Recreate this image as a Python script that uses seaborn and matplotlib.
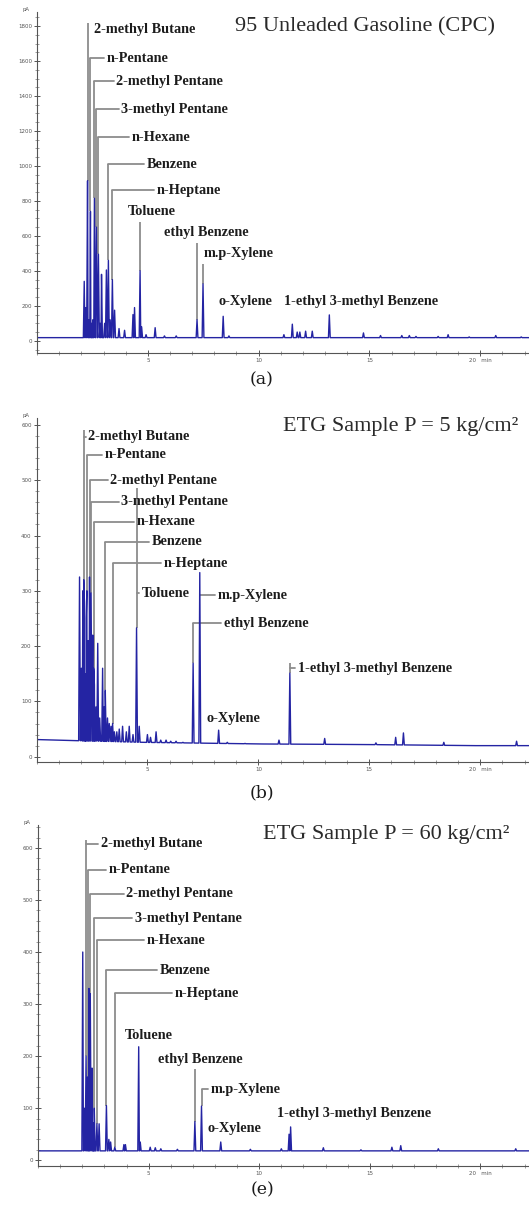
import numpy as np
import pandas as pd
import seaborn as sns
import matplotlib.pyplot as plt
from matplotlib.ticker import MultipleLocator, FixedLocator, FixedFormatter

sns.set_style('ticks')
plt.rcParams['font.family'] = ['DejaVu Sans']

compounds = ["2-methyl Butane", "n-Pentane", "2-methyl Pentane", "3-methyl Pentane",
             "n-Hexane", "Benzene", "n-Heptane", "Toluene", "ethyl Benzene",
             "m.p-Xylene", "o-Xylene", "1-ethyl 3-methyl Benzene"]

# ---- (a) 95 unleaded gasoline ----
peak_t_a = [2.13, 2.20, 2.28, 2.34, 2.41, 2.47, 2.52, 2.59, 2.68, 2.77, 2.85, 2.91, 3.05,
            3.13, 3.22, 3.30, 3.40, 3.50, 3.70, 3.95, 4.33, 4.40, 4.65, 4.72, 4.92, 5.33,
            5.75, 6.28, 7.22, 7.49, 8.40, 8.66, 11.14, 11.52, 11.74, 11.86, 12.12, 12.42,
            13.19, 14.73, 15.50, 16.46, 16.80, 17.10, 18.10, 18.55, 19.50, 20.70, 21.85]
peak_h_a = [340, 190, 915, 120, 740, 100, 120, 815, 650, 495, 100, 380, 100,
            405, 460, 120, 350, 175, 70, 60, 150, 190, 400, 80, 35, 75,
            28, 28, 120, 325, 140, 28, 35, 95, 50, 50, 55, 55,
            148, 45, 30, 30, 30, 25, 25, 35, 22, 30, 22]
base_t_a = [0.0, 22.2]
base_y_a = [18, 18]
lab_x_a = [2.59, 3.14, 3.58, 3.81, 4.25, 4.93, 5.38, 4.08, 5.74, 7.53, 8.21, 11.14]
lab_y_a = [1782, 1616, 1485, 1325, 1165, 1011, 862, 742, 622, 497, 223, 223]
lead_t_a = [2.28, 2.41, 2.59, 2.68, 2.77, 3.22, 3.40, 4.65, 7.22, 7.49, np.nan, np.nan]
lead_top_a = [1816, 1616, 1485, 1325, 1165, 1011, 862, 680, 560, 440, np.nan, np.nan]
hook_a = [False, True, True, True, True, True, True, False, False, False, False, False]

# ---- (b) ETG sample 5 kg/cm2 ----
peak_t_b = [1.94, 2.02, 2.09, 2.13, 2.16, 2.20, 2.24, 2.27, 2.33, 2.39, 2.46, 2.54, 2.58,
            2.61, 2.68, 2.76, 2.85, 2.98, 3.05, 3.10, 3.20, 3.28, 3.36, 3.43, 3.51, 3.62,
            3.73, 3.88, 4.05, 4.18, 4.35, 4.51, 4.63, 5.00, 5.14, 5.39, 5.60, 5.84, 6.05,
            6.29, 6.60, 7.06, 7.36, 8.21, 8.60, 9.40, 10.93, 11.42, 12.99, 15.30, 16.19,
            16.54, 18.36, 21.64]
peak_h_b = [325, 160, 300, 320, 280, 150, 250, 300, 210, 325, 296, 220, 160,
            130, 90, 205, 70, 160, 90, 120, 70, 60, 55, 60, 45, 45,
            50, 55, 45, 55, 40, 233, 55, 40, 35, 45, 30, 30, 28,
            28, 26, 169, 333, 48, 26, 24, 30, 151, 33, 25, 35,
            43, 26, 28]
base_t_b = [0.0, 1.8, 4.8, 10.2, 14.8, 19.8, 22.2]
base_y_b = [31, 29, 26, 23, 22, 20, 20]
lab_x_b = [2.34, 3.07, 3.33, 3.82, 4.50, 5.21, 5.75, 4.75, 8.43, 8.16, 7.67, 11.79]
lab_y_b = [579, 546, 500, 461, 425, 389, 350, 296, 241, 292, 69, 160]
lead_t_b = [2.13, 2.27, 2.39, 2.46, 2.58, 3.10, 3.43, 4.51, 7.06, 7.36, np.nan, 11.42]
lead_top_b = [590, 546, 500, 461, 425, 389, 350, 486, 241, 333, np.nan, 169]
hook_b = [True, True, True, True, True, True, True, True, True, True, False, True]

# ---- (e) ETG sample 60 kg/cm2 ----
peak_t_e = [2.02, 2.09, 2.17, 2.24, 2.30, 2.36, 2.44, 2.50, 2.54, 2.66, 2.76, 3.09, 3.20,
            3.28, 3.47, 3.88, 3.95, 4.55, 4.62, 5.07, 5.30, 5.55, 6.30, 7.09, 7.39, 8.26,
            9.60, 11.00, 11.35, 11.42, 12.90, 14.60, 16.00, 16.40, 18.10, 21.60]
peak_h_e = [400, 100, 200, 160, 330, 320, 177, 72, 100, 70, 70, 105, 40,
            35, 25, 30, 30, 218, 35, 25, 24, 22, 21, 74, 104, 35,
            21, 22, 50, 64, 24, 20, 25, 28, 22, 22]
base_t_e = [0.0, 22.2]
base_y_e = [18, 18]
lab_x_e = [2.84, 3.21, 3.99, 4.38, 4.93, 5.49, 6.17, 3.93, 5.42, 7.82, 7.66, 10.82]
lab_y_e = [608, 558, 512, 465, 423, 365, 321, 240, 194, 136, 61, 90]
lead_t_e = [2.17, 2.24, 2.36, 2.54, 2.66, 3.09, 3.47, np.nan, 7.09, 7.39, np.nan, np.nan]
lead_top_e = [615, 558, 512, 465, 423, 365, 321, np.nan, 176, 136, np.nan, np.nan]
hook_e = [True, True, True, True, True, True, True, False, False, True, False, False]

titles = ["95 Unleaded Gasoline (CPC)", "ETG Sample P = 5 kg/cm\u00b2", "ETG Sample P = 60 kg/cm\u00b2"]
captions = ["(a)", "(b)", "(e)"]


def build_trace(pt, ph, bt, by, w=0.04):
    xs = list(bt)
    ys = list(by)
    for t, h in zip(pt, ph):
        feet = np.interp([t - w, t + w], bt, by)
        xs += [t - w, t, t + w]
        ys += [feet[0], h, feet[1]]
    df = pd.DataFrame({'t': xs, 'pA': ys}).sort_values('t', kind='stable')
    return df


def draw_panel(ax, pt, ph, bt, by, lx, ly, lt, ltop, hook, ylim, ymaj, ymin, title, tpos):
    peaks_t = np.array(pt)
    peaks_h = np.array(ph)
    # leader lines from peak tops to the names
    for x, y, t, top, hk in zip(lx, ly, lt, ltop, hook):
        if not np.isnan(t):
            bottom = peaks_h[np.argmin(np.abs(peaks_t - t))]
            if top > bottom:
                ax.plot([t, t], [bottom, top], color='#8c8c8c', lw=1.3, zorder=1,
                        solid_capstyle='butt')
            if hk:
                ax.plot([t, x - 0.12], [y, y], color='#8c8c8c', lw=1.3, zorder=1)
    df = build_trace(pt, ph, bt, by)
    sns.lineplot(data=df, x='t', y='pA', ax=ax, estimator=None, sort=False,
                 color='#2424a3', lw=1.0, zorder=2)
    for x, y, name in zip(lx, ly, compounds):
        ax.text(x, y, name, fontsize=10.3, fontweight='bold', color='#1c1c1c',
                family='Liberation Serif', va='center', ha='left', zorder=3)
    ax.text(tpos[0], tpos[1], title, transform=ax.transAxes, fontsize=16,
            family='Liberation Serif', color='#2a2a2a', va='center', ha='left')

    ax.set_xlim(0, 22.2)
    ax.set_ylim(*ylim)
    ax.set_xlabel('')
    ax.set_ylabel('')
    sns.despine(ax=ax)
    for s in ['left', 'bottom']:
        ax.spines[s].set_color('#555555')
        ax.spines[s].set_linewidth(0.8)
    ax.xaxis.set_major_locator(FixedLocator([5, 10, 15, 20]))
    ax.xaxis.set_major_formatter(FixedFormatter(['5', '10', '15', '20   min']))
    ax.xaxis.set_minor_locator(MultipleLocator(1))
    ax.yaxis.set_major_locator(MultipleLocator(ymaj))
    ax.yaxis.set_minor_locator(MultipleLocator(ymin))
    ax.tick_params(axis='both', which='major', labelsize=4, colors='#555555',
                   direction='inout', length=4, width=0.7, pad=1.5)
    ax.tick_params(axis='both', which='minor', colors='#777777',
                   direction='inout', length=2.5, width=0.5)
    ax.text(-0.015, 1.0, 'pA', transform=ax.transAxes, fontsize=3.8, color='#555555',
            ha='right', va='bottom')


fig = plt.figure(figsize=(5.29, 12.09), dpi=100)
ax_a = fig.add_axes([0.070, 0.708, 0.930, 0.282])
ax_b = fig.add_axes([0.069, 0.370, 0.931, 0.284])
ax_e = fig.add_axes([0.072, 0.0356, 0.928, 0.282])

draw_panel(ax_a, peak_t_a, peak_h_a, base_t_a, base_y_a, lab_x_a, lab_y_a, lead_t_a,
           lead_top_a, hook_a, (-70, 1880), 200, 50, titles[0], (0.402, 0.956))
draw_panel(ax_b, peak_t_b, peak_h_b, base_t_b, base_y_b, lab_x_b, lab_y_b, lead_t_b,
           lead_top_b, hook_b, (-9, 612), 100, 20, titles[1], (0.50, 0.975))
draw_panel(ax_e, peak_t_e, peak_h_e, base_t_e, base_y_e, lab_x_e, lab_y_e, lead_t_e,
           lead_top_e, hook_e, (-11, 644), 100, 20, titles[2], (0.458, 0.972))

for cap, ypx in zip(captions, [380, 793, 1190]):
    fig.text(262 / 529, 1 - ypx / 1209, cap, fontsize=12.5, family='DejaVu Serif',
             color='#1a1a1a', ha='center', va='center')

fig.savefig('out.png', dpi=100)
